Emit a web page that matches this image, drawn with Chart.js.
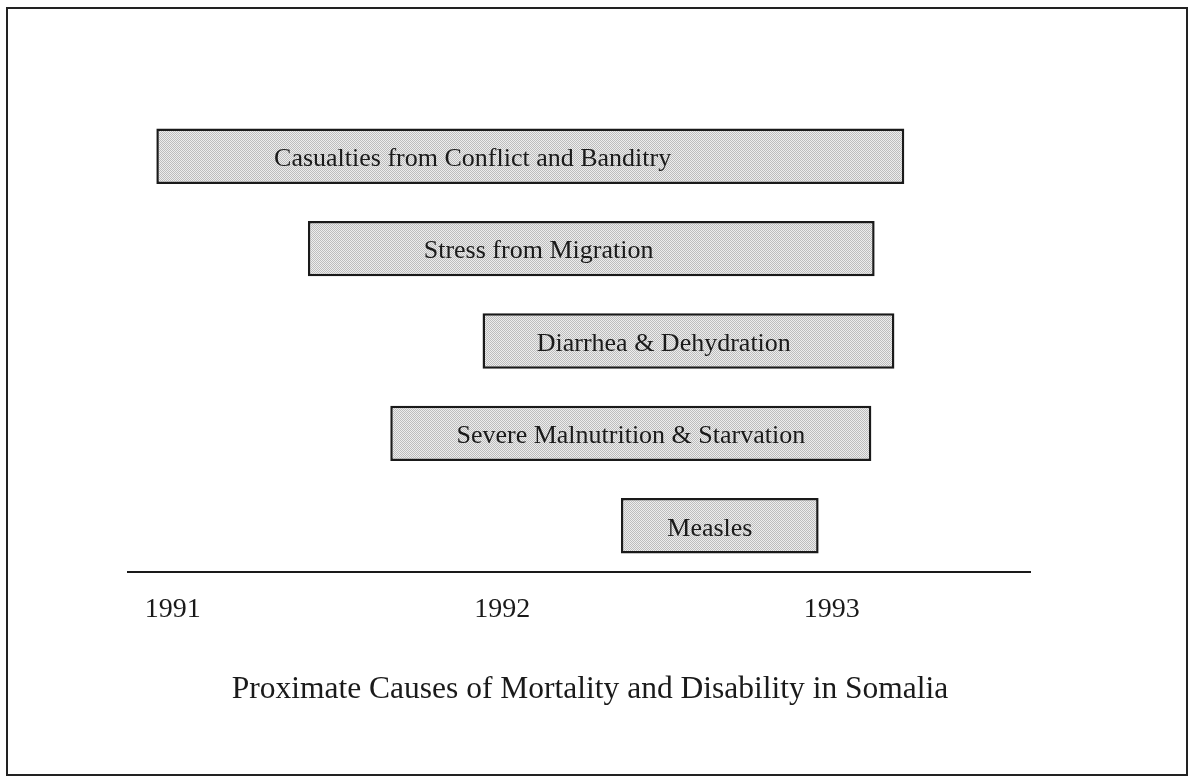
<!DOCTYPE html>
<html>
<head>
<meta charset="utf-8">
<script src="https://cdn.jsdelivr.net/npm/chart.js@4.4.0/dist/chart.umd.min.js"></script>
<style>
html,body{margin:0;padding:0;background:#fff;}
canvas{display:block;}
</style>
</head>
<body>
<canvas id="c" width="1190" height="778"></canvas>
<script>
// ---- data ----
const categories = [
  "Casualties from Conflict and Banditry",
  "Stress from Migration",
  "Diarrhea & Dehydration",
  "Severe Malnutrition & Starvation",
  "Measles"
];
const startYears = [1990.95, 1991.41, 1991.94, 1991.66, 1992.36];
const endYears   = [1993.22, 1993.13, 1993.19, 1993.12, 1992.96];
const labelCenters = [1991.91, 1992.11, 1992.49, 1992.39, 1992.63];
const tickYears = [1991, 1992, 1993];
const chartTitle = "Proximate Causes of Mortality and Disability in Somalia";

// ---- dithered gray fill ----
const pc = document.createElement('canvas');
pc.width = 2; pc.height = 2;
const pctx = pc.getContext('2d');
pctx.fillStyle = '#ededed'; pctx.fillRect(0,0,2,2);
pctx.fillStyle = '#bdbdbd'; pctx.fillRect(0,0,1,1); pctx.fillRect(1,1,1,1);
const ctx = document.getElementById('c').getContext('2d');
const pattern = ctx.createPattern(pc, 'repeat');

const serif = "'Liberation Serif', 'Times New Roman', serif";

const framePlugin = {
  id: 'frame',
  beforeDraw(chart) {
    const c = chart.ctx;
    c.save();
    c.fillStyle = '#fff';
    c.fillRect(0, 0, chart.width, chart.height);
    c.strokeStyle = '#222';
    c.lineWidth = 2;
    c.strokeRect(7, 8, 1180, 767);
    c.restore();
  },
  afterDraw(chart) {
    const c = chart.ctx;
    c.save();
    c.font = "31.5px " + serif;
    c.fillStyle = '#1a1a1a';
    c.textAlign = 'center';
    c.textBaseline = 'middle';
    c.fillText(chartTitle, 590, 690);
    c.restore();
  }
};

const barLabelPlugin = {
  id: 'barLabels',
  afterDatasetsDraw(chart) {
    const c = chart.ctx;
    const xs = chart.scales.x, ys = chart.scales.y;
    c.save();
    c.font = "26px " + serif;
    c.fillStyle = '#1a1a1a';
    c.textAlign = 'center';
    c.textBaseline = 'middle';
    categories.forEach((name, i) => {
      c.fillText(name, xs.getPixelForValue(labelCenters[i]), ys.getPixelForValue(i) + 3);
    });
    c.restore();
  }
};

new Chart(ctx, {
  type: 'bar',
  data: {
    labels: categories,
    datasets: [{
      data: categories.map((_, i) => [startYears[i], endYears[i]]),
      backgroundColor: pattern,
      borderColor: '#1a1a1a',
      borderWidth: 2.5,
      borderSkipped: false,
      categoryPercentage: 1.0,
      barPercentage: 0.6
    }]
  },
  options: {
    indexAxis: 'y',
    responsive: false,
    animation: false,
    devicePixelRatio: 1,
    layout: { padding: { left: 128, right: 160, top: 110, bottom: 0 } },
    plugins: {
      legend: { display: false },
      tooltip: { enabled: false },
      title: { display: false }
    },
    scales: {
      x: {
        type: 'linear',
        min: 1990.864,
        max: 1993.6015,
        grid: { display: false, drawTicks: false },
        border: { display: true, color: '#1a1a1a', width: 2 },
        afterBuildTicks(scale) { scale.ticks = tickYears.map(v => ({ value: v })); },
        afterFit(scale) { scale.height = 206; },
        ticks: {
          color: '#1a1a1a',
          font: { family: serif, size: 28 },
          padding: 21,
          maxRotation: 0,
          autoSkip: false,
          callback: (v) => String(v)
        }
      },
      y: { display: false }
    }
  },
  plugins: [framePlugin, barLabelPlugin]
});
</script>
</body>
</html>
